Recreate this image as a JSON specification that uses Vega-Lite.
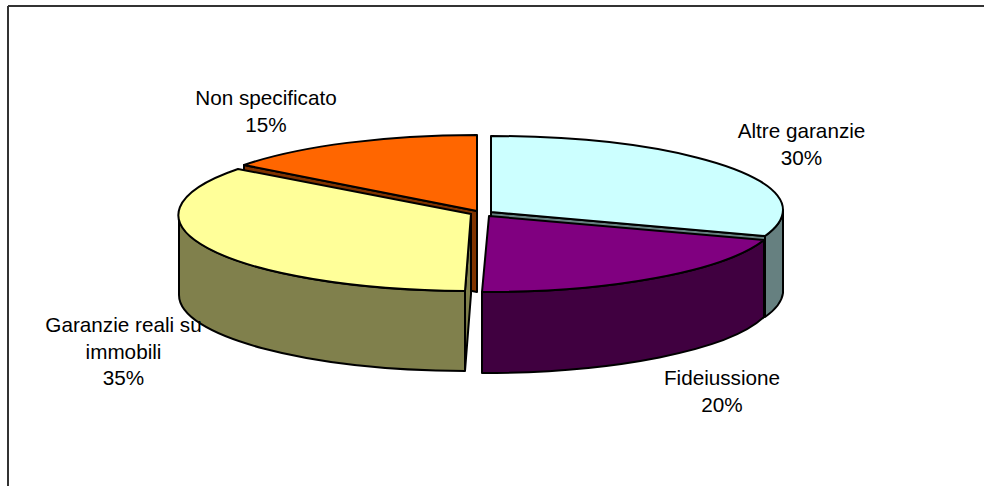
{
  "$schema": "https://vega.github.io/schema/vega-lite/v6.json",
  "autosize": {"type": "fit", "contains": "padding"},
  "width": 984,
  "height": 486,
  "padding": {"left": 7, "top": 5, "right": -1, "bottom": -1},
  "background": "white",
  "view": {"stroke": null},
  "data": {"values": [
    {"garanzia": "Non specificato", "percentuale": 15, "etichetta": "Non specificato\n15%"},
    {"garanzia": "Altre garanzie", "percentuale": 30, "etichetta": "Altre garanzie\n30%"},
    {"garanzia": "Fideiussione", "percentuale": 20, "etichetta": "Fideiussione\n20%"},
    {"garanzia": "Garanzie reali su immobili", "percentuale": 35, "etichetta": "Garanzie reali su\nimmobili\n35%"}
  ]},
  "layer": [
    {
      "mark": {"type": "rule", "color": "#333333", "strokeWidth": 2},
      "encoding": {"x": {"datum": 0, "scale": {"domain": [0, 1]}, "axis": null}}
    },
    {
      "mark": {"type": "rule", "color": "#333333", "strokeWidth": 2},
      "encoding": {"y": {"datum": 0, "scale": {"domain": [0, 1], "range": [0, 481]}, "axis": null}}
    },
    {
      "mark": {"type": "point", "filled": true, "opacity": 1, "size": 4, "stroke": "black", "strokeWidth": 2, "strokeOpacity": 1, "strokeJoin": "round"},
      "encoding": {
        "shape": {"field": "garanzia", "type": "nominal", "legend": null, "scale": {
          "domain": ["Non specificato", "Altre garanzie", "Fideiussione", "Garanzie reali su immobili"],
          "range": [
            "M-252 -81L-19 -35L-19 46L-252 0Z",
            "M287 -36L287 47A292 76 0 0 1 269 71L269 -10A292 76 0 0 0 287 -36ZM-5 -34L269 -10L269 71L-5 47Z",
            "M268 -6A292 76 0 0 1 -14 46L-14 127A292 76 0 0 0 268 71Z",
            "M-25 -32L-25 48L-31 125L-31 45ZM-317 -31A292 76 0 0 0 -31 45L-31 125A292 76 0 0 1 -317 49Z"
          ]
        }},
        "fill": {"field": "garanzia", "type": "nominal", "legend": null, "scale": {
          "domain": ["Non specificato", "Altre garanzie", "Fideiussione", "Garanzie reali su immobili"],
          "range": ["#803300", "#668080", "#400040", "#80804C"]
        }}
      }
    },
    {
      "mark": {"type": "point", "filled": true, "opacity": 1, "size": 4, "stroke": "black", "strokeWidth": 2, "strokeOpacity": 1, "strokeJoin": "round"},
      "encoding": {
        "shape": {"field": "garanzia", "type": "nominal", "legend": null, "scale": {
          "domain": ["Non specificato", "Altre garanzie", "Fideiussione", "Garanzie reali su immobili"],
          "range": [
            "M-19 -35L-252 -81A292 76 0 0 1 -19 -111Z",
            "M-5 -110A292 74 0 0 1 287 -36A292 76 0 0 1 269 -10L-5 -34Z",
            "M-7 -30L268 -6A292 76 0 0 1 -14 46Z",
            "M-25 -32L-258 -77A292 76 0 0 0 -31 45Z"
          ]
        }},
        "fill": {"field": "garanzia", "type": "nominal", "legend": null, "scale": {
          "domain": ["Non specificato", "Altre garanzie", "Fideiussione", "Garanzie reali su immobili"],
          "range": ["#FF6600", "#CCFFFF", "#800080", "#FFFF99"]
        }}
      }
    },
    {
      "mark": {"type": "text", "font": "Liberation Sans", "fontSize": 20.7, "lineBreak": "\n", "lineHeight": 26.5, "align": "center", "baseline": "middle", "color": "black"},
      "encoding": {
        "text": {"field": "etichetta", "type": "nominal"},
        "x": {"field": "percentuale", "type": "quantitative", "axis": null, "scale": {
          "domain": [15, 20, 30, 35],
          "range": [258, 714, 793.5, 115.5]
        }},
        "y": {"field": "percentuale", "type": "quantitative", "axis": null, "scale": {
          "domain": [15, 20, 30, 35],
          "range": [93, 373, 126, 320]
        }}
      }
    }
  ],
  "resolve": {"scale": {"x": "independent", "y": "independent", "shape": "independent", "fill": "independent"}}
}
